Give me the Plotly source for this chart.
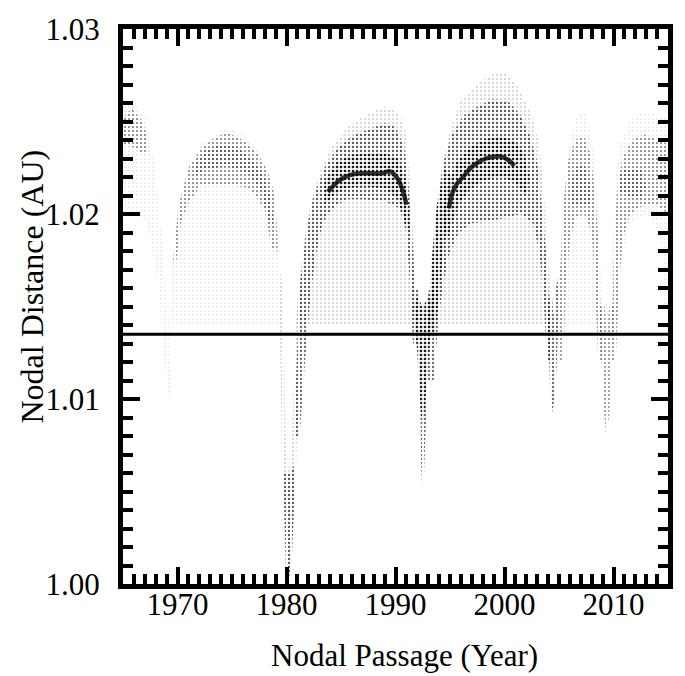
import plotly.graph_objects as go

# ---------------- data ----------------
# Axis tick values
x_major_ticks = [1970, 1980, 1990, 2000, 2010]
y_major_ticks = [1.00, 1.01, 1.02, 1.03]

# Earth's nodal distance reference line
earth_year = [1965, 2015]
earth_au = [1.0135, 1.0135]

# ---- cloud outlines (year, AU) ----
# arch 0 (before 1969)
a0_sparse_year = [1965, 1966.0, 1967.0, 1967.8, 1968.5, 1969.0, 1969.4, 1969.0, 1968.3, 1967.2, 1966.0, 1965]
a0_sparse_au = [1.0258, 1.0260, 1.0252, 1.0230, 1.0190, 1.0150, 1.0102, 1.0102, 1.0160, 1.0195, 1.0200, 1.0205]
a0_core_year = [1965, 1965.8, 1966.8, 1967.3, 1967.0, 1966.0, 1965]
a0_core_au = [1.0252, 1.0257, 1.0250, 1.0240, 1.0232, 1.0236, 1.0238]

# arch 1 (1969-1980)
a1_sparse_year = [1969.0, 1969.4, 1970.0, 1971.0, 1972.2, 1973.5, 1974.6, 1976.0, 1977.3, 1978.2, 1978.9, 1979.3, 1979.5, 1969.3]
a1_sparse_au = [1.0112, 1.0170, 1.0200, 1.0222, 1.0237, 1.0243, 1.0247, 1.0242, 1.0235, 1.0225, 1.0212, 1.0185, 1.0140, 1.0140]
a1_band_year = [1969.6, 1970.1, 1971.0, 1972.2, 1973.4, 1974.5, 1976.0, 1977.3, 1978.2, 1978.8, 1979.1, 1979.2,
                1978.6, 1978.0, 1976.6, 1974.5, 1972.2, 1971.0, 1970.3, 1969.9]
a1_band_au = [1.0175, 1.0205, 1.0225, 1.0236, 1.0241, 1.0244, 1.0240, 1.0233, 1.0224, 1.0213, 1.0195, 1.0180,
              1.0182, 1.0203, 1.0214, 1.0216, 1.0216, 1.0206, 1.0195, 1.0175]
a1_core_year = [1971.5, 1972.5, 1974.0, 1975.5, 1977.0, 1978.0, 1978.6, 1978.8, 1978.4, 1977.7, 1976.5, 1974.5, 1972.5, 1971.5]
a1_core_au = [1.0226, 1.0234, 1.0238, 1.0236, 1.0229, 1.0220, 1.0208, 1.0195, 1.0195, 1.0212, 1.0222, 1.0226, 1.0224, 1.0220]

# dip near 1980
d1980_year = [1979.2, 1979.4, 1979.5, 1979.6, 1979.8, 1979.95, 1980.2, 1980.45, 1980.8, 1981.1, 1981.3, 1981.6,
              1981.1, 1980.8, 1980.5, 1980.2, 1979.9, 1979.8, 1979.6]
d1980_au = [1.0180, 1.0140, 1.0100, 1.0060, 1.0025, 1.0005, 1.0000, 1.0010, 1.0050, 1.0100, 1.0140, 1.0170,
            1.0165, 1.0130, 1.0080, 1.0060, 1.0080, 1.0120, 1.0160]
d1980_core_year = [1979.7, 1979.95, 1980.2, 1980.5, 1980.7, 1980.8, 1980.3]
d1980_core_au = [1.0060, 1.0010, 1.0002, 1.0015, 1.0045, 1.0065, 1.0060]

# arch 2 (1981-1992)
a2_sparse_year = [1980.9, 1981.2, 1981.6, 1982.2, 1983.0, 1984.3, 1985.8, 1987.5, 1989.0, 1990.2, 1990.9, 1991.3,
                  1991.6, 1991.9, 1992.1]
a2_sparse_au = [1.0140, 1.0165, 1.0185, 1.0205, 1.0222, 1.0238, 1.0248, 1.0254, 1.0258, 1.0255, 1.0245, 1.0220,
                1.0190, 1.0160, 1.0140]
a2_band_year = [1980.7, 1981.0, 1981.3, 1981.8, 1982.5, 1983.5, 1984.6, 1986.0, 1987.6, 1989.0, 1990.0, 1990.8,
                1991.2, 1991.5, 1991.8, 1992.0,
                1991.6, 1991.3, 1991.0, 1990.4, 1989.0, 1987.0, 1985.5, 1984.2, 1983.3, 1982.6, 1982.1, 1981.7, 1981.2]
a2_band_au = [1.0080, 1.0130, 1.0165, 1.0190, 1.0210, 1.0225, 1.0235, 1.0242, 1.0246, 1.0249, 1.0247, 1.0236,
              1.0215, 1.0190, 1.0160, 1.0130,
              1.0130, 1.0165, 1.0190, 1.0203, 1.0207, 1.0208, 1.0208, 1.0203, 1.0195, 1.0175, 1.0150, 1.0120, 1.0080]
a2_core_year = [1983.5, 1984.6, 1986.0, 1987.5, 1989.0, 1990.2, 1990.9, 1991.2, 1991.3, 1990.9, 1990.2, 1989.0,
                1987.0, 1985.5, 1984.3, 1983.5]
a2_core_au = [1.0218, 1.0228, 1.0232, 1.0233, 1.0233, 1.0230, 1.0220, 1.0205, 1.0190, 1.0195, 1.0208, 1.0214,
              1.0215, 1.0214, 1.0210, 1.0205]
a2_ridge_year = [1983.8, 1984.8, 1985.8, 1986.8, 1987.8, 1988.8, 1989.5, 1990.2, 1990.7, 1991.0]
a2_ridge_au = [1.0212, 1.0218, 1.0221, 1.0222, 1.0222, 1.0222, 1.0223, 1.0219, 1.0212, 1.0205]

# dip near 1992
d1992_year = [1991.6, 1991.9, 1992.2, 1992.3, 1992.35, 1992.5, 1992.65, 1992.8, 1993.0, 1993.3, 1993.6,
              1993.1, 1992.8, 1992.6, 1992.3, 1992.1]
d1992_au = [1.0160, 1.0140, 1.0120, 1.0090, 1.0065, 1.0044, 1.0065, 1.0090, 1.0120, 1.0140, 1.0160,
            1.0160, 1.0150, 1.0145, 1.0150, 1.0160]
d1992_core_year = [1991.6, 1992.0, 1992.3, 1992.5, 1992.7, 1993.0, 1993.5, 1993.0, 1992.5, 1992.0]
d1992_core_au = [1.0150, 1.0125, 1.0095, 1.0085, 1.0095, 1.0125, 1.0150, 1.0155, 1.0150, 1.0155]

# arch 3 (1993-2004)
a3_sparse_year = [1993.3, 1993.4, 1993.8, 1994.2, 1995.0, 1996.0, 1997.5, 1999.0, 2000.2, 2001.3, 2002.4, 2003.2,
                  2003.6, 2003.9, 2004.2, 2004.4]
a3_sparse_au = [1.0140, 1.0170, 1.0200, 1.0225, 1.0245, 1.0262, 1.0270, 1.0276, 1.0276, 1.0268, 1.0255, 1.0238,
                1.0212, 1.0185, 1.0160, 1.0140]
a3_band_year = [1992.9, 1993.1, 1993.4, 1993.8, 1994.4, 1995.2, 1996.2, 1997.5, 1999.0, 2000.3, 2001.4, 2002.3,
                2003.0, 2003.4, 2003.8, 2004.1, 2004.3,
                2003.9, 2003.6, 2003.2, 2002.6, 2001.5, 2000.0, 1998.5, 1997.0, 1995.8, 1994.9, 1994.3, 1993.9, 1993.5]
a3_band_au = [1.0110, 1.0140, 1.0175, 1.0205, 1.0228, 1.0243, 1.0253, 1.0258, 1.0262, 1.0261, 1.0254, 1.0243,
              1.0228, 1.0205, 1.0180, 1.0150, 1.0120,
              1.0120, 1.0155, 1.0180, 1.0195, 1.0200, 1.0198, 1.0196, 1.0195, 1.0190, 1.0178, 1.0160, 1.0140, 1.0110]
a3_core_year = [1994.3, 1994.8, 1995.6, 1996.8, 1998.0, 1999.5, 2000.8, 2001.8, 2002.3, 2002.0, 2000.8, 1999.5,
                1998.0, 1996.8, 1995.8, 1995.2, 1994.7]
a3_core_au = [1.0200, 1.0215, 1.0228, 1.0236, 1.0240, 1.0242, 1.0240, 1.0233, 1.0220, 1.0210, 1.0218, 1.0220,
              1.0218, 1.0213, 1.0205, 1.0195, 1.0185]
a3_left_year = [1993.0, 1993.3, 1993.8, 1994.5, 1995.2, 1994.8, 1994.3, 1993.9, 1993.6]
a3_left_au = [1.0140, 1.0175, 1.0205, 1.0225, 1.0220, 1.0200, 1.0175, 1.0150, 1.0135]
a3_ridge_year = [1994.9, 1995.2, 1995.6, 1996.2, 1996.9, 1997.6, 1998.3, 1999.0, 1999.7, 2000.4, 2000.9]
a3_ridge_au = [1.0203, 1.0211, 1.0216, 1.0220, 1.0225, 1.0228, 1.0230, 1.0231, 1.0231, 1.0229, 1.0226]

# dip near 2004.5
d2004_year = [2003.9, 2004.1, 2004.2, 2004.35, 2004.6, 2004.8, 2005.0, 2005.1, 2004.7, 2004.5, 2004.3]
d2004_au = [1.0150, 1.0120, 1.0100, 1.0092, 1.0100, 1.0120, 1.0150, 1.0170, 1.0160, 1.0145, 1.0160]

# arch 4 (2005-2009)
a4_sparse_year = [2005.0, 2005.2, 2005.5, 2005.9, 2006.6, 2007.3, 2007.9, 2008.3, 2008.6, 2008.8, 2009.0]
a4_sparse_au = [1.0140, 1.0180, 1.0210, 1.0235, 1.0252, 1.0256, 1.0245, 1.0225, 1.0200, 1.0170, 1.0140]
a4_band_year = [2004.9, 2005.1, 2005.4, 2005.8, 2006.5, 2007.3, 2007.9, 2008.3, 2008.6, 2008.8, 2009.0,
                2008.6, 2008.3, 2008.0, 2007.3, 2006.5, 2006.0, 2005.6, 2005.4]
a4_band_au = [1.0120, 1.0170, 1.0205, 1.0228, 1.0240, 1.0242, 1.0232, 1.0212, 1.0185, 1.0150, 1.0120,
              1.0120, 1.0165, 1.0190, 1.0200, 1.0198, 1.0185, 1.0160, 1.0120]
a4_core_year = [2006.0, 2006.5, 2007.3, 2007.9, 2008.0, 2007.3, 2006.5, 2006.0]
a4_core_au = [1.0215, 1.0225, 1.0227, 1.0215, 1.0205, 1.0205, 1.0205, 1.0205]

# dip near 2009.4
d2009_year = [2008.7, 2008.9, 2009.1, 2009.3, 2009.6, 2009.8, 2010.0, 2009.6, 2009.4, 2009.2]
d2009_au = [1.0150, 1.0120, 1.0095, 1.0082, 1.0090, 1.0115, 1.0150, 1.0150, 1.0135, 1.0150]

# arch 5 (2010-2015)
a5_sparse_year = [2009.7, 2009.9, 2010.1, 2010.6, 2011.5, 2012.5, 2013.5, 2015.0, 2015.0, 2014.6, 2014.3, 2013.0,
                  2011.5, 2010.6, 2010.3]
a5_sparse_au = [1.0140, 1.0180, 1.0215, 1.0238, 1.0250, 1.0255, 1.0254, 1.0252, 1.0150, 1.0150, 1.0190, 1.0200,
                1.0195, 1.0170, 1.0140]
a5_band_year = [2009.8, 2010.0, 2010.3, 2010.8, 2011.7, 2012.8, 2014.0, 2015.0, 2015.0, 2014.0, 2012.8, 2011.5,
                2010.8, 2010.5, 2010.2]
a5_band_au = [1.0120, 1.0170, 1.0210, 1.0230, 1.0240, 1.0243, 1.0240, 1.0238, 1.0200, 1.0205, 1.0205, 1.0200,
              1.0185, 1.0160, 1.0120]
a5_core_year = [2010.5, 2011.3, 2012.5, 2013.0, 2012.5, 2011.3, 2010.6]
a5_core_au = [1.0222, 1.0225, 1.0224, 1.0215, 1.0208, 1.0210, 1.0212]

# ---------------- styling ----------------
FONT = "Liberation Serif, Times New Roman, serif"

# stipple pattern per density class (same tile size so dots stack, no moire)
density_style = {
    "faint": dict(solidity=0.07, opacity=0.30),
    "sparse": dict(solidity=0.10, opacity=0.40),
    "light": dict(solidity=0.18, opacity=0.50),
    "medium": dict(solidity=0.26, opacity=0.60),
    "dense": dict(solidity=0.36, opacity=0.75),
}
TILE = 4

regions = [
    (a0_sparse_year, a0_sparse_au, "faint"),
    (a0_core_year, a0_core_au, "light"),
    (a1_sparse_year, a1_sparse_au, "faint"),
    (a1_band_year, a1_band_au, "light"),
    (a1_core_year, a1_core_au, "light"),
    (d1980_year, d1980_au, "sparse"),
    (d1980_core_year, d1980_core_au, "medium"),
    (a2_sparse_year, a2_sparse_au, "sparse"),
    (a2_band_year, a2_band_au, "medium"),
    (a2_core_year, a2_core_au, "dense"),
    (d1992_year, d1992_au, "medium"),
    (d1992_core_year, d1992_core_au, "dense"),
    (a3_sparse_year, a3_sparse_au, "sparse"),
    (a3_band_year, a3_band_au, "medium"),
    (a3_core_year, a3_core_au, "dense"),
    (a3_left_year, a3_left_au, "dense"),
    (d2004_year, d2004_au, "medium"),
    (a4_sparse_year, a4_sparse_au, "faint"),
    (a4_band_year, a4_band_au, "light"),
    (a4_core_year, a4_core_au, "light"),
    (d2009_year, d2009_au, "light"),
    (a5_sparse_year, a5_sparse_au, "faint"),
    (a5_band_year, a5_band_au, "light"),
    (a5_core_year, a5_core_au, "light"),
]

fig = go.Figure()

for xs, ys, dens in regions:
    st = density_style[dens]
    fig.add_trace(go.Scatter(
        x=xs, y=ys, mode="none", fill="toself",
        fillcolor="rgba(0,0,0,0)",
        fillpattern=dict(shape=".", fgcolor="black", bgcolor="rgba(0,0,0,0)",
                         fgopacity=st["opacity"], size=TILE, solidity=st["solidity"]),
        hoverinfo="skip", showlegend=False,
    ))

for xs, ys in [(a2_ridge_year, a2_ridge_au), (a3_ridge_year, a3_ridge_au)]:
    fig.add_trace(go.Scatter(
        x=xs, y=ys, mode="lines",
        line=dict(color="rgba(0,0,0,0.8)", width=4.5, shape="spline"),
        hoverinfo="skip", showlegend=False,
    ))

fig.add_trace(go.Scatter(
    x=earth_year, y=earth_au, mode="lines",
    line=dict(color="black", width=3),
    hoverinfo="skip", showlegend=False,
))

axis_common = dict(
    showgrid=False, zeroline=False,
    showline=True, linecolor="black", linewidth=5, mirror="allticks",
    ticks="inside", tickcolor="black", tickwidth=3.5, ticklen=17,
    tickfont=dict(family=FONT, size=31, color="black"),
)

fig.update_xaxes(
    range=[1965, 2015], tickmode="array", tickvals=x_major_ticks,
    ticktext=[str(v) for v in x_major_ticks],
    ticklabelstandoff=-11,
    minor=dict(dtick=1, tick0=1965, ticks="inside", ticklen=10, tickwidth=3.5, tickcolor="black"),
    **axis_common,
)
fig.update_yaxes(
    range=[1.0, 1.03], tickmode="array", tickvals=y_major_ticks,
    ticktext=[f"{v:.2f}" for v in y_major_ticks],
    ticklabelstandoff=12,
    minor=dict(dtick=0.001, tick0=1.0, ticks="inside", ticklen=10, tickwidth=3.5, tickcolor="black"),
    **axis_common,
)

fig.update_layout(
    width=685, height=676,
    margin=dict(l=123, r=12, t=21, b=92),
    paper_bgcolor="white", plot_bgcolor="white",
    showlegend=False,
    annotations=[
        dict(text="Nodal Passage (Year)", xref="paper", yref="paper",
             x=0.516, y=-0.128, xanchor="center", yanchor="middle", showarrow=False,
             font=dict(family=FONT, size=31, color="black")),
        dict(text="Nodal Distance (AU)", xref="paper", yref="paper",
             x=-0.167, y=0.536, xanchor="center", yanchor="middle", showarrow=False,
             textangle=-90, font=dict(family=FONT, size=32, color="black")),
    ],
)

fig.write_html("out.html")
